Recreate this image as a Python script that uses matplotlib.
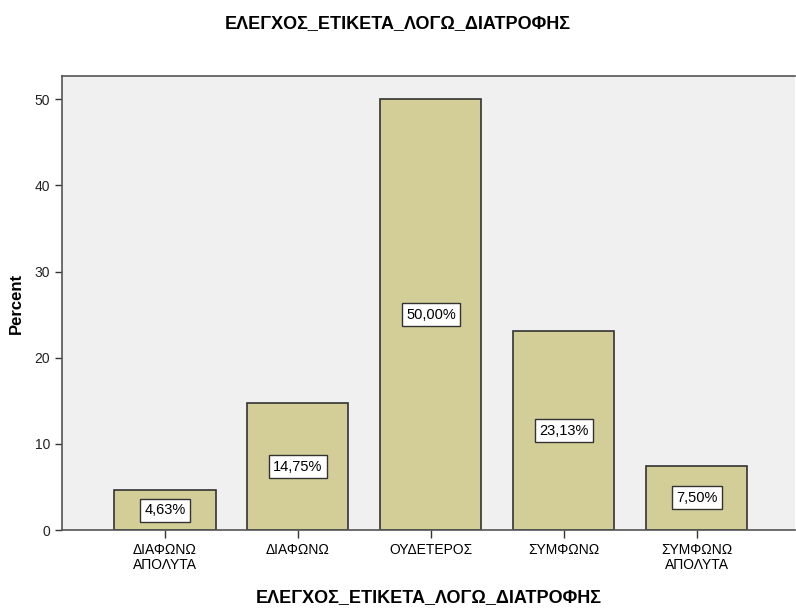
import numpy as np
import matplotlib.pyplot as plt

plt.rcParams['font.family'] = ['Liberation Sans', 'DejaVu Sans']

categories = ['ΔΙΑΦΩΝΩ\nΑΠΟΛΥΤΑ', 'ΔΙΑΦΩΝΩ', 'ΟΥΔΕΤΕΡΟΣ', 'ΣΥΜΦΩΝΩ', 'ΣΥΜΦΩΝΩ\nΑΠΟΛΥΤΑ']
percent = [4.63, 14.75, 50.00, 23.13, 7.50]
title = 'ΕΛΕΓΧΟΣ_ΕΤΙΚΕΤΑ_ΛΟΓΩ_ΔΙΑΤΡΟΦΗΣ'

fig = plt.figure(figsize=(7.96, 6.08), dpi=100)
ax = fig.add_axes([0.078, 0.128, 0.921, 0.747])
ax.set_facecolor('#f0f0f0')

x = np.arange(len(categories))
ax.bar(x, percent, width=0.76, color='#d3ce97', edgecolor='#333333', linewidth=1.2, zorder=2)

for xi, v in zip(x, percent):
    lbl = ('%.2f%%' % v).replace('.', ',')
    ax.text(xi, v / 2, lbl, ha='center', va='center', fontsize=10.5, zorder=3,
            bbox=dict(boxstyle='square,pad=0.3', facecolor='white', edgecolor='#333333', linewidth=1))

ax.set_xlim(-0.774, 4.74)
ax.set_ylim(0, 52.7)
ax.set_yticks([0, 10, 20, 30, 40, 50])
ax.set_xticks(x)
ax.set_xticklabels(categories, fontsize=10, linespacing=1.1)
ax.tick_params(axis='y', labelsize=10, length=5, width=1, color='#333333', labelcolor='#222222')
ax.tick_params(axis='x', length=6, width=1, color='#333333')

for s in ['right']:
    ax.spines[s].set_visible(False)
for s in ['left', 'top', 'bottom']:
    ax.spines[s].set_color('#555555')
    ax.spines[s].set_linewidth(1.2)

ax.set_ylabel('Percent', fontsize=12, fontweight='bold', labelpad=8)
ax.set_xlabel(title, fontsize=13, fontweight='bold', labelpad=12)
fig.text(0.5, 0.962, title, ha='center', va='center', fontsize=13, fontweight='bold')

fig.savefig('out.png', dpi=100)
